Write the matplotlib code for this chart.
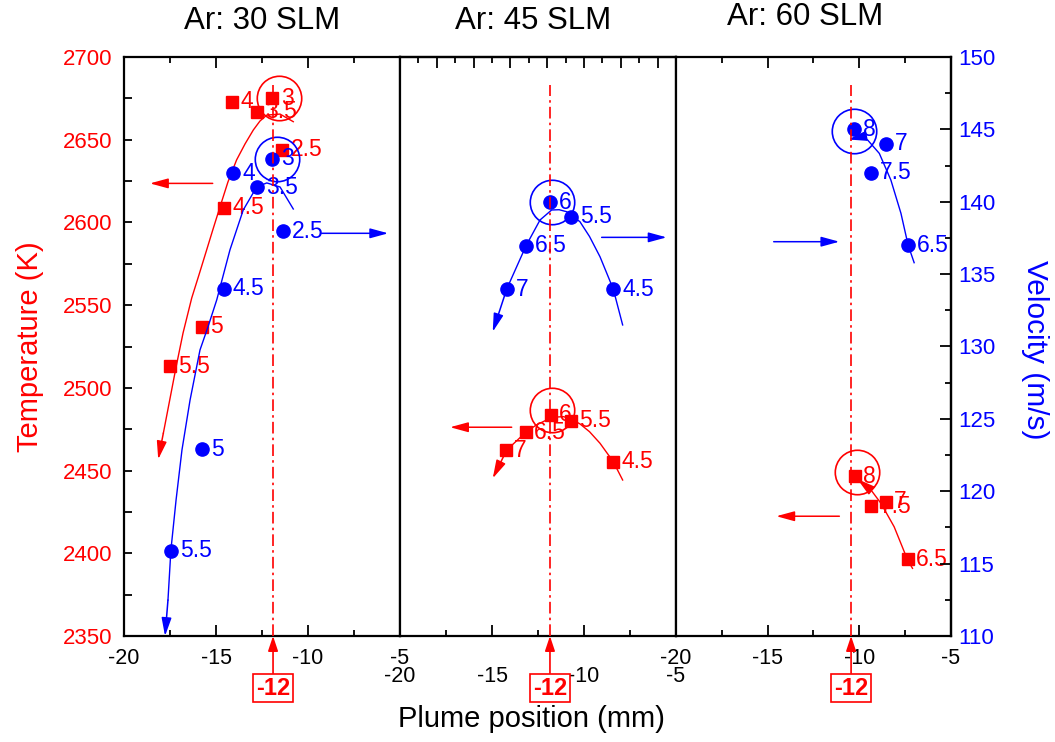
import matplotlib.pyplot as plt
from matplotlib.ticker import MultipleLocator

plt.rcParams['font.family'] = ['Liberation Sans', 'DejaVu Sans']
plt.rcParams['axes.unicode_minus'] = False

RED = '#ff0000'
BLUE = '#0000ff'
W, H = 1055, 742

titles = ["Ar: 30 SLM", "Ar: 45 SLM", "Ar: 60 SLM"]
x_lim = (-20, -5)
temp_lim = (2350, 2700)
vel_lim = (110, 150)
# dash-dot reference lines, all tagged "-12" on the plot
mark_x = [-11.9, -11.85, -10.45]
mark_text = "-12"

# ---- Ar 30 SLM ----
t30_x = [-14.13, -11.93, -12.77, -11.40, -14.57, -15.78, -17.50]
t30_T = [2673, 2675, 2667, 2644, 2609, 2537, 2513]
t30_lab = ["4", "3", "3.5", "2.5", "4.5", "5", "5.5"]
v30_x = [-11.93, -14.06, -12.79, -11.38, -14.57, -15.78, -17.46]
v30_v = [142.97, 141.96, 141.0, 137.96, 134.0, 122.9, 115.9]
v30_lab = ["3", "4", "3.5", "2.5", "4.5", "5", "5.5"]
# fitted trend curves (last point = arrow tip)
t30_fit_x = [-10.80, -11.52, -12.24, -12.61, -12.97, -13.42, -13.88, -14.35, -14.78, -15.16,
             -15.51, -15.92, -16.32, -16.79, -17.17, -17.86, -18.14]
t30_fit_T = [2660.9, 2665.5, 2664.9, 2661.3, 2655.9, 2647.5, 2637.8, 2624.5, 2609.5, 2596.0,
             2583.3, 2568.5, 2554.3, 2533.2, 2512.6, 2472.7, 2456.8]
v30_fit_x = [-10.80, -11.52, -12.24, -12.79, -13.52, -14.24, -14.96, -15.45, -15.87, -16.41,
             -16.85, -17.17, -17.45, -17.61, -17.77]
v30_fit_v = [139.50, 141.02, 141.30, 141.02, 139.43, 136.68, 133.22, 131.3, 129.76, 126.30,
             122.85, 119.40, 115.95, 112.49, 110.0]

# ---- Ar 45 SLM ----
t45_x = [-11.81, -10.72, -13.15, -14.24, -8.41]
t45_T = [2483.6, 2480.1, 2473.3, 2462.4, 2455.3]
t45_lab = ["6", "5.5", "6.5", "7", "4.5"]
v45_x = [-11.85, -10.72, -13.15, -14.20, -8.41]
v45_v = [139.96, 138.97, 136.96, 133.97, 133.97]
v45_lab = ["6", "5.5", "6.5", "7", "4.5"]
t45_fit_x = [-7.90, -8.41, -9.13, -9.70, -10.22, -10.70, -11.12, -11.60, -12.03, -12.60, -13.15,
             -14.20, -14.96]
t45_fit_T = [2444.3, 2455.4, 2466.5, 2473.5, 2478.2, 2481.2, 2482.6, 2482.3, 2480.6, 2477.5,
             2473.3, 2462.4, 2445.3]
v45_fit_x = [-7.90, -8.41, -9.13, -9.70, -10.22, -10.94, -11.35, -11.76, -12.39, -13.15, -14.20,
             -14.96]
v45_fit_v = [131.49, 133.97, 136.20, 137.6, 138.62, 139.31, 139.45, 139.43, 138.74, 136.96,
             133.97, 131.02]

# ---- Ar 60 SLM ----
t60_x = [-10.23, -8.55, -9.36, -7.37]
t60_T = [2446.7, 2431.2, 2428.5, 2396.3]
t60_lab = ["8", "7", "7.5", "6.5"]
v60_x = [-10.27, -8.55, -9.36, -7.33]
v60_v = [145.0, 143.99, 142.0, 137.0]
v60_lab = ["8", "7", "7.5", "6.5"]
t60_fit_x = [-7.10, -7.38, -8.10, -8.82, -9.36, -10.11]
t60_fit_T = [2390.9, 2396.3, 2416.0, 2430.2, 2438.2, 2444.9]
v60_fit_x = [-7.01, -7.34, -7.73, -8.28, -8.91, -9.55, -10.0, -10.60]
v60_fit_v = [135.79, 137.01, 139.20, 141.50, 143.34, 144.27, 144.45, 144.30]

# highlighted (circled) optimum points
circ_T_x = [-11.56, -11.76, -10.12]
circ_T = [2675.0, 2486.6, 2449.0]
circ_v_x = [-11.67, -11.76, -10.27]
circ_v = [142.93, 140.0, 144.9]

# axis-direction arrows: (x start, x end, level)
arrT = [(-15.18, -18.59, 2623.6), (-13.93, -17.28, 2476.2), (-11.09, -14.53, 2422.4)]
arrV = [(-9.26, -5.64, 137.82), (-9.04, -5.51, 137.54), (-14.67, -11.09, 137.24)]

panels = [
    (t30_x, t30_T, t30_lab, v30_x, v30_v, v30_lab, t30_fit_x, t30_fit_T, v30_fit_x, v30_fit_v),
    (t45_x, t45_T, t45_lab, v45_x, v45_v, v45_lab, t45_fit_x, t45_fit_T, v45_fit_x, v45_fit_v),
    (t60_x, t60_T, t60_lab, v60_x, v60_v, v60_lab, t60_fit_x, t60_fit_T, v60_fit_x, v60_fit_v),
]

HEAD = '-|>,head_length=1.1,head_width=0.3'


def arrow(ax, x0, y0, x1, y1, color):
    ax.annotate('', xy=(x1, y1), xytext=(x0, y0),
                arrowprops=dict(arrowstyle=HEAD, color=color, lw=1.1,
                                shrinkA=0, shrinkB=0, mutation_scale=10),
                annotation_clip=False, zorder=4)


def curve(ax, xs, ys, color):
    ax.plot(xs[:-1], ys[:-1], color=color, lw=1.0, zorder=2, clip_on=False)
    arrow(ax, xs[-2], ys[-2], xs[-1], ys[-1], color)


fig = plt.figure(figsize=(W / 100, H / 100), dpi=100)
edges = [124, 400, 676, 951]
top_px, bot_px = 57, 636

for i in range(3):
    tx, tT, tl, vx, vv, vl, ftx, ftT, fvx, fvv = panels[i]
    ax = fig.add_axes([edges[i] / W, 1 - bot_px / H,
                       (edges[i + 1] - edges[i]) / W, (bot_px - top_px) / H])
    axv = ax.twinx()
    ax.set_xlim(*x_lim)
    ax.set_ylim(*temp_lim)
    axv.set_ylim(*vel_lim)

    for sp in ax.spines.values():
        sp.set_linewidth(1.6)
    for sp in axv.spines.values():
        sp.set_visible(False)

    # x ticks
    ax.xaxis.set_major_locator(MultipleLocator(5))
    ax.xaxis.set_minor_locator(MultipleLocator(2.5))
    ax.tick_params(axis='x', which='both', direction='in', bottom=True,
                   top=(i != 1), width=1.3, labelsize=15.5,
                   pad=(21.5 if i == 1 else 8.5))
    ax.tick_params(axis='x', which='major', length=8)
    ax.tick_params(axis='x', which='minor', length=4.5)
    if i == 1:
        sec = ax.secondary_xaxis('top')
        sec.xaxis.set_major_locator(MultipleLocator(2))
        sec.xaxis.set_minor_locator(MultipleLocator(1))
        sec.tick_params(which='both', direction='in', width=1.3, labeltop=False)
        sec.tick_params(which='major', length=8)
        sec.tick_params(which='minor', length=4.5)
        sec.spines['top'].set_linewidth(1.6)

    # y ticks
    if i == 0:
        ax.yaxis.set_major_locator(MultipleLocator(50))
        ax.yaxis.set_minor_locator(MultipleLocator(25))
        ax.tick_params(axis='y', which='both', direction='in', left=True,
                       right=False, length=5.5, width=1.3, labelsize=16,
                       labelcolor=RED, pad=8.5)
    else:
        ax.tick_params(axis='y', which='both', left=False, right=False,
                       labelleft=False)
    if i == 2:
        axv.spines['right'].set_visible(True)
        axv.spines['right'].set_linewidth(1.6)
        axv.yaxis.set_major_locator(MultipleLocator(5))
        axv.yaxis.set_minor_locator(MultipleLocator(2.5))
        axv.tick_params(axis='y', which='both', direction='in', width=1.3,
                        labelsize=16, labelcolor=BLUE, pad=5.5)
        axv.tick_params(axis='y', which='major', length=8)
        axv.tick_params(axis='y', which='minor', length=4.5)
    else:
        axv.tick_params(axis='y', which='both', right=False, labelright=False)

    # data
    curve(ax, ftx, ftT, RED)
    curve(axv, fvx, fvv, BLUE)
    ax.plot(tx, tT, 's', color=RED, ms=8, zorder=3, clip_on=False)
    axv.plot(vx, vv, 'o', color=BLUE, ms=9.5, zorder=3, clip_on=False)
    for x, y, s in zip(tx, tT, tl):
        ax.annotate(s, (x, y), xytext=(6, 0), textcoords='offset points',
                    ha='left', va='center', color=RED, fontsize=16.5, zorder=4)
    for x, y, s in zip(vx, vv, vl):
        axv.annotate(s, (x, y), xytext=(6.5, 0), textcoords='offset points',
                     ha='left', va='center', color=BLUE, fontsize=16.5, zorder=4)

    ax.plot(circ_T_x[i], circ_T[i], 'o', ms=32, mfc='none', mec=RED, mew=1.2, zorder=3)
    axv.plot(circ_v_x[i], circ_v[i], 'o', ms=32, mfc='none', mec=BLUE, mew=1.2, zorder=3)

    arrow(ax, arrT[i][0], arrT[i][2], arrT[i][1], arrT[i][2], RED)
    arrow(axv, arrV[i][0], arrV[i][2], arrV[i][1], arrV[i][2], BLUE)

    axv.axvline(mark_x[i], ymax=0.952, color=RED, lw=1.2,
                ls=(0, (7, 2.5, 1.5, 2.5)), zorder=6)
    axv.annotate(mark_text, xy=(mark_x[i], 0), xycoords=('data', 'axes fraction'),
                 xytext=(mark_x[i], -0.09), textcoords=('data', 'axes fraction'),
                 ha='center', va='center', color=RED, fontsize=17, fontweight='bold',
                 bbox=dict(boxstyle='square,pad=0.12', fc='white', ec=RED, lw=1.2),
                 arrowprops=dict(arrowstyle='-|>,head_length=0.9,head_width=0.3',
                                 color=RED, lw=1.2, shrinkA=0, shrinkB=0,
                                 mutation_scale=10),
                 annotation_clip=False, zorder=7)

# titles and axis labels
title_px = [(262, 21), (533, 21), (805, 17)]
for (px, py), t in zip(title_px, titles):
    fig.text(px / W, 1 - py / H, t, ha='center', va='center', fontsize=22.5)
fig.text(531 / W, 1 - 719 / H, "Plume position (mm)", ha='center', va='center', fontsize=21)
fig.text(30 / W, 1 - 347 / H, "Temperature (K)", ha='center', va='center',
         rotation=90, color=RED, fontsize=21)
fig.text(1035 / W, 1 - 350 / H, "Velocity (m/s)", ha='center', va='center',
         rotation=270, color=BLUE, fontsize=21.5)

fig.savefig("out.png", dpi=100)
